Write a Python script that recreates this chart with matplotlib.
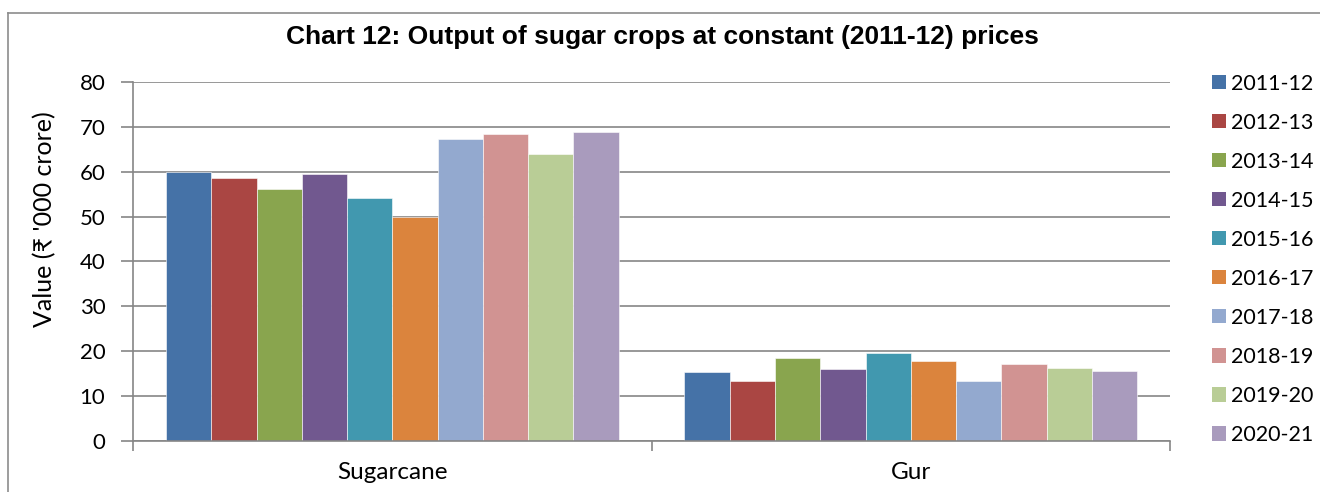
import matplotlib
matplotlib.use("Agg")
import matplotlib.pyplot as plt
import numpy as np
from matplotlib.patches import Patch
from matplotlib.lines import Line2D

categories = ["Sugarcane", "Gur"]
years = ["2011-12", "2012-13", "2013-14", "2014-15", "2015-16",
         "2016-17", "2017-18", "2018-19", "2019-20", "2020-21"]
sugarcane = [60.0, 58.5, 56.1, 59.4, 54.1, 50.0, 67.2, 68.3, 63.9, 68.8]
gur = [15.4, 13.3, 18.6, 16.0, 19.6, 17.9, 13.4, 17.1, 16.3, 15.5]
colors = ["#4572A7", "#AA4643", "#89A54E", "#71588F", "#4198AF",
          "#DB843D", "#93A9CF", "#D19392", "#B9CD96", "#A99BBD"]

font = ["Lato", "DejaVu Sans"]
plt.rcParams['font.family'] = font

fig = plt.figure(figsize=(13.2, 4.92), dpi=100)
ax = fig.add_axes([0.1008, 0.1037, 0.7856, 0.7297])

values = np.array([sugarcane, gur])  # shape (2, 10)
x = np.arange(len(categories))
w = 0.0873
for i, yr in enumerate(years):
    offs = (i - (len(years) - 1) / 2) * w
    ax.bar(x + offs, values[:, i], width=w, color=colors[i],
           edgecolor="white", linewidth=0.4, label=yr, zorder=3)

grid_c = "#868686"
ax.set_xlim(-0.5, 1.5)
ax.set_ylim(0, 80)
ax.set_yticks(range(0, 81, 10))
ax.yaxis.grid(True, color=grid_c, linewidth=1.2, zorder=0)
ax.set_axisbelow(True)
for s in ["top", "right"]:
    ax.spines[s].set_visible(False)
for s in ["left", "bottom"]:
    ax.spines[s].set_color(grid_c)
    ax.spines[s].set_linewidth(1.2)
    ax.spines[s].set_zorder(4)

ax.set_xticks(x)
ax.set_xticklabels(categories, fontsize=17.5)
ax.tick_params(axis="x", which="major", length=0, pad=15)
ax.set_xticks([-0.5, 0.5, 1.5], minor=True)
ax.tick_params(axis="x", which="minor", length=7, width=1.2, color=grid_c, direction="out")
ax.tick_params(axis="y", length=9, width=1.2, color=grid_c, labelsize=16, pad=11)

ax.set_ylabel("Value (₹ '000 crore)", fontsize=18)
ax.yaxis.set_label_coords(-0.074, 0.618)

fig.text(0.502, 0.925, "Chart 12: Output of sugar crops at constant (2011-12) prices",
         ha="center", va="center", fontsize=19, fontweight="bold",
         family=["Liberation Sans", "DejaVu Sans"])

handles = [Patch(facecolor=c, edgecolor="none") for c in colors]
fig.legend(handles, years, loc="upper left", bbox_to_anchor=(0.912, 0.868),
           frameon=False, fontsize=15.5, handlelength=0.65, handleheight=0.65,
           handletextpad=0.2, labelspacing=0.885, borderaxespad=0)

# chart border (left and top edges visible)
fig.add_artist(Line2D([8 / 1320, 8 / 1320], [0, 1 - 13 / 492],
                      transform=fig.transFigure, color="#8c8c8c", linewidth=1.2))
fig.add_artist(Line2D([8 / 1320, 1], [1 - 13 / 492, 1 - 13 / 492],
                      transform=fig.transFigure, color="#8c8c8c", linewidth=1.2))

fig.savefig("out.png", dpi=100)
